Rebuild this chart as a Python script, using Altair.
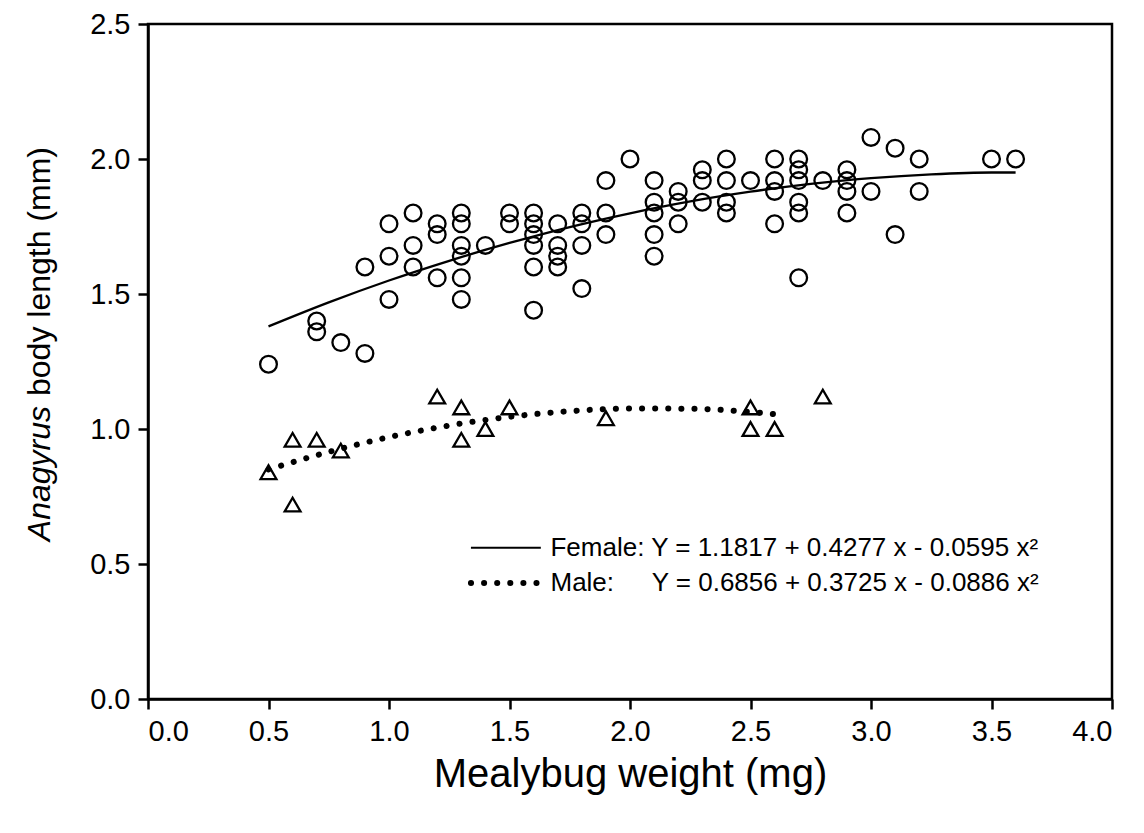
import altair as alt
import pandas as pd

# Female observations (mealybug weight mg, body length mm)
female_x = [0.5, 0.7, 0.7, 0.8, 0.9, 0.9,
            1.0, 1.0, 1.0, 1.1, 1.1, 1.1, 1.2, 1.2, 1.2,
            1.3, 1.3, 1.3, 1.3, 1.3, 1.3, 1.4, 1.5, 1.5,
            1.6, 1.6, 1.6, 1.6, 1.6, 1.6, 1.7, 1.7, 1.7, 1.7,
            1.8, 1.8, 1.8, 1.8, 1.9, 1.9, 1.9, 2.0,
            2.1, 2.1, 2.1, 2.1, 2.1, 2.2, 2.2, 2.2, 2.3, 2.3, 2.3,
            2.4, 2.4, 2.4, 2.4, 2.5, 2.6, 2.6, 2.6, 2.6,
            2.7, 2.7, 2.7, 2.7, 2.7, 2.7, 2.8, 2.9, 2.9, 2.9, 2.9,
            3.0, 3.0, 3.1, 3.1, 3.2, 3.2, 3.5, 3.6]
female_y = [1.24, 1.40, 1.36, 1.32, 1.60, 1.28,
            1.76, 1.64, 1.48, 1.80, 1.68, 1.60, 1.76, 1.72, 1.56,
            1.80, 1.76, 1.68, 1.64, 1.56, 1.48, 1.68, 1.80, 1.76,
            1.80, 1.76, 1.72, 1.68, 1.60, 1.44, 1.76, 1.68, 1.64, 1.60,
            1.80, 1.76, 1.68, 1.52, 1.92, 1.80, 1.72, 2.00,
            1.92, 1.84, 1.80, 1.72, 1.64, 1.88, 1.84, 1.76, 1.96, 1.92, 1.84,
            2.00, 1.92, 1.84, 1.80, 1.92, 2.00, 1.92, 1.88, 1.76,
            2.00, 1.96, 1.92, 1.84, 1.80, 1.56, 1.92, 1.96, 1.92, 1.88, 1.80,
            2.08, 1.88, 2.04, 1.72, 2.00, 1.88, 2.00, 2.00]

# Male observations
male_x = [0.5, 0.6, 0.6, 0.7, 0.8, 1.2, 1.3, 1.3, 1.4, 1.5, 1.9, 2.5, 2.5, 2.6, 2.8]
male_y = [0.84, 0.96, 0.72, 0.96, 0.92, 1.12, 1.08, 0.96, 1.00, 1.08, 1.04, 1.08, 1.00, 1.00, 1.12]

# Fitted curves
female_fit_x = [0.5, 0.75, 1.0, 1.25, 1.5, 1.75, 2.0, 2.25, 2.5, 2.75, 3.0, 3.25, 3.5, 3.6]
female_fit_y = [1.380, 1.469, 1.550, 1.623, 1.689, 1.748, 1.799, 1.843, 1.879, 1.908, 1.929, 1.943, 1.950, 1.950]
male_fit_x = [0.5, 0.75, 1.0, 1.25, 1.5, 1.75, 2.0, 2.25, 2.5, 2.6]
male_fit_y = [0.850, 0.915, 0.970, 1.013, 1.045, 1.066, 1.076, 1.075, 1.063, 1.055]

# Legend (equations)
legend_labels = ["Female: Y = 1.1817 + 0.4277 x - 0.0595 x\u00b2", "Male:", "Y = 0.6856 + 0.3725 x - 0.0886 x\u00b2"]
legend_label_x = [1.67, 1.67, 2.09]
legend_label_y = [0.56, 0.43, 0.43]
legend_line_x = [1.34, 1.63]
female_legend_y = [0.56, 0.56]
male_legend_y = [0.43, 0.43]

x_ticks = [0.0, 0.5, 1.0, 1.5, 2.0, 2.5, 3.0, 3.5, 4.0]
y_ticks = [0.0, 0.5, 1.0, 1.5, 2.0, 2.5]

FONT = "Liberation Sans"

xs = alt.Scale(domain=[0, 4], nice=False, zero=False)
ys = alt.Scale(domain=[0, 2.5], nice=False, zero=False)
x_enc = alt.X("x:Q", scale=xs, axis=alt.Axis(values=x_ticks, format=".1f", title="Mealybug weight (mg)"))
y_enc = alt.Y("y:Q", scale=ys, axis=alt.Axis(values=y_ticks, format=".1f", title=None))

fdf = pd.DataFrame({"x": female_x, "y": female_y})
mdf = pd.DataFrame({"x": male_x, "y": male_y})
ffit = pd.DataFrame({"x": female_fit_x, "y": female_fit_y})
mfit = pd.DataFrame({"x": male_fit_x, "y": male_fit_y})
ltext = pd.DataFrame({"x": legend_label_x, "y": legend_label_y, "label": legend_labels})
fleg = pd.DataFrame({"x": legend_line_x, "y": female_legend_y})
mleg = pd.DataFrame({"x": legend_line_x, "y": male_legend_y})

female_pts = alt.Chart(fdf).mark_point(shape="circle", filled=False, color="black",
                                       size=280, strokeWidth=2.3, opacity=1).encode(x=x_enc, y=y_enc)
male_pts = alt.Chart(mdf).mark_point(shape="triangle-up", filled=False, color="black",
                                     size=250, strokeWidth=2.3, opacity=1).encode(x=x_enc, y=y_enc)
female_line = alt.Chart(ffit).mark_line(color="black", strokeWidth=2.3, interpolate="monotone").encode(x=x_enc, y=y_enc)
male_line = alt.Chart(mfit).mark_line(color="black", strokeWidth=6, strokeDash=[0.1, 13],
                                      strokeCap="round", interpolate="monotone").encode(x=x_enc, y=y_enc)
female_leg = alt.Chart(fleg).mark_line(color="black", strokeWidth=2).encode(x=x_enc, y=y_enc)
male_leg = alt.Chart(mleg).mark_line(color="black", strokeWidth=6, strokeDash=[0.1, 13],
                                     strokeCap="round").encode(x=x_enc, y=y_enc)
leg_text = alt.Chart(ltext).mark_text(align="left", baseline="middle", font=FONT, fontSize=26,
                                      color="black").encode(x=x_enc, y=y_enc, text="label:N")

ytitle_a = alt.Chart(pd.DataFrame({"t": ["Anagyrus"]})).mark_text(
    angle=270, align="right", baseline="middle", font=FONT, fontSize=32, fontStyle="italic", color="black"
).encode(text="t:N", x=alt.value(-108), y=alt.value(382))
ytitle_b = alt.Chart(pd.DataFrame({"t": ["body length (mm)"]})).mark_text(
    angle=270, align="left", baseline="middle", font=FONT, fontSize=32, color="black"
).encode(text="t:N", x=alt.value(-108), y=alt.value(372))

chart = alt.layer(
    female_line, male_line, female_pts, male_pts, female_leg, male_leg, leg_text, ytitle_a, ytitle_b
).properties(
    width=964, height=675,
    autosize=alt.AutoSizeParams(type="none"),
    padding={"left": 140, "top": 16, "right": 20, "bottom": 120},
).configure_view(
    stroke="black", strokeWidth=2.5
).configure_axis(
    grid=False, domainColor="black", domainWidth=2.5, tickColor="black", tickWidth=2.5, tickSize=10,
    labelFont=FONT, labelFontSize=29, labelColor="black", labelPadding=8,
    titleFont=FONT, titleFontSize=40, titleFontWeight="normal", titleColor="black", titlePadding=8,
)

chart.save("out.html", embed_options={"renderer": "svg", "actions": False})
